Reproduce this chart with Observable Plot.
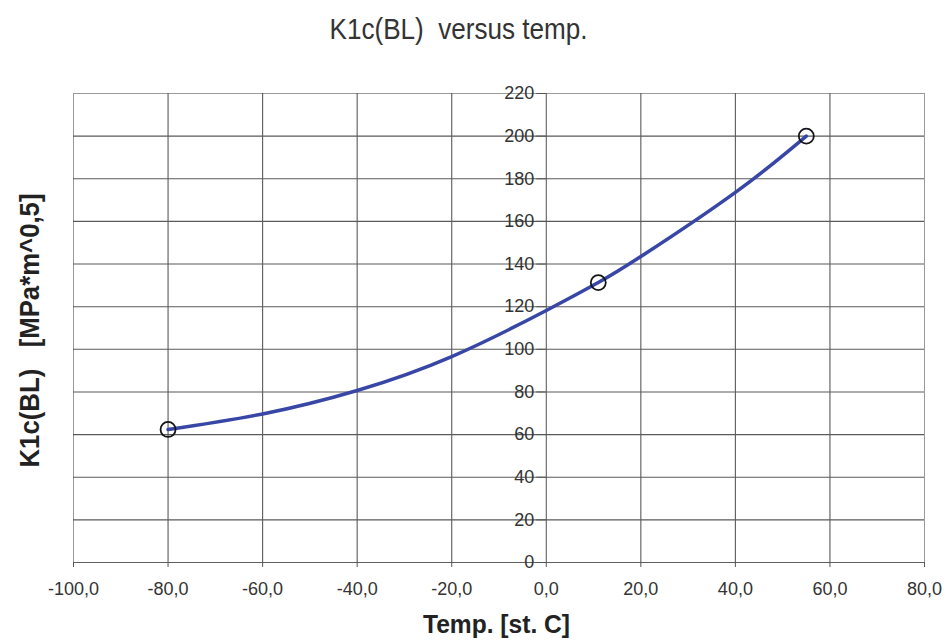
<!DOCTYPE html>
<html>
<head>
<meta charset="utf-8">
<script src="https://cdn.jsdelivr.net/npm/d3@7"></script>
<script src="https://cdn.jsdelivr.net/npm/@observablehq/plot@0.6"></script>
<style>
  html, body { margin: 0; padding: 0; background: #fff; }
  #chart svg { display: block; }
</style>
</head>
<body>
<div id="chart"></div>
<script>
// ---- data ----
const titleText = "K1c(BL)  versus temp.";
const xLabelText = "Temp. [st. C]";
const yLabelText = "K1c(BL)   [MPa*m^0,5]";

// measured points (circle markers)
const pointTemps = [-80, 11, 55];
const pointK1c = [62.4, 131.3, 200];

// smoothed line as drawn
const curveTemps = [-80, -60, -40, -20, 0, 11, 20, 40, 55];
const curveK1c  = [62.4, 69.7, 80.7, 96.6, 118.2, 131.3, 143.5, 173.6, 200.0];

// tick values
const xTicks = [-100, -80, -60, -40, -20, 0, 20, 40, 60, 80];
const yTicks = [0, 20, 40, 60, 80, 100, 120, 140, 160, 180, 200, 220];

const points = pointTemps.map((t, i) => ({t, k: pointK1c[i]}));
const curve = curveTemps.map((t, i) => ({t, k: curveK1c[i]}));
const fmtX = d => d.toFixed(1).replace(".", ",");

const chart = Plot.plot({
  width: 945,
  height: 640,
  marginLeft: 73,
  marginRight: 21,
  marginTop: 93,
  marginBottom: 78,
  style: {fontFamily: "'Liberation Sans', Arial, sans-serif", fontSize: "18px", background: "#fff", color: "#333"},
  x: {domain: [-100, 80]},
  y: {domain: [0, 220], axis: null},
  marks: [
    Plot.frame({stroke: "#9a9a9a"}),
    Plot.gridX(xTicks.filter(d => d > -100 && d < 80 && d !== 0), {stroke: "#5a5a5a", strokeOpacity: 1, strokeWidth: 1.1}),
    Plot.gridY(yTicks.filter(d => d > 0 && d < 220), {stroke: "#5a5a5a", strokeOpacity: 1, strokeWidth: 1.1}),
    Plot.ruleX([0], {stroke: "#505050"}),
    Plot.ruleY([0], {stroke: "#606060"}),
    Plot.axisX(xTicks, {tickFormat: fmtX, tickSize: 5, tickPadding: 15, stroke: "#555", fill: "#333", label: null}),
    Plot.ruleY(yTicks, {y: d => d, x1: -2, x2: 0, stroke: "#555"}),
    Plot.text(yTicks, {x: 0, y: d => d, text: d => String(d), textAnchor: "end", dx: -12, fill: "#333"}),
    Plot.line(curve, {x: "t", y: "k", curve: "natural", stroke: "#3847a6", strokeWidth: 3.5}),
    Plot.dot(points, {x: "t", y: "k", r: 7.5, stroke: "#151515", strokeWidth: 1.8, fill: "none"}),
    Plot.text([titleText], {frameAnchor: "top", textAnchor: "middle", dx: -40.5, dy: -55, lineAnchor: "bottom", fontSize: 29, fill: "#333"}),
    Plot.text([xLabelText], {frameAnchor: "bottom", textAnchor: "middle", dx: -2.5, dy: 70, lineAnchor: "bottom", fontSize: 26, fontWeight: "bold", fill: "#222"}),
    Plot.text([yLabelText], {frameAnchor: "left", textAnchor: "middle", dx: -35, dy: 2.5, rotate: -90, lineAnchor: "bottom", fontSize: 28, fontWeight: "bold", fill: "#222"})
  ]
});

document.getElementById("chart").appendChild(chart);

// fit the scanned (slightly condensed) label widths
const fits = {};
fits[titleText] = 258;
fits[xLabelText] = 147;
fits[yLabelText] = 274;
d3.select(chart).selectAll("text").each(function () {
  const s = this.textContent;
  if (fits[s] !== undefined) {
    d3.select(this)
      .attr("textLength", fits[s])
      .attr("lengthAdjust", "spacingAndGlyphs")
      .style("white-space", "pre");
  }
});
</script>
</body>
</html>
